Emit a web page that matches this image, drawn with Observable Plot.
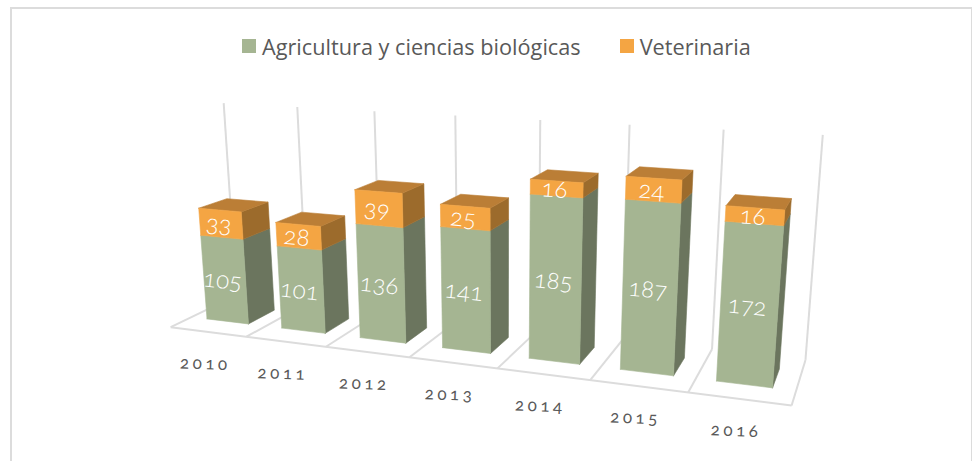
<!doctype html>
<html><head><meta charset="utf-8">
<style>
html,body{margin:0;background:#fff;overflow:hidden}
#frame{position:absolute;left:10px;top:7px;width:959px;height:470px;border:2px solid #dcdcdc;box-sizing:content-box}
#wrap{position:relative;width:972px}
#legend{height:70px;position:relative;font:400 21.7px "Open Sans";color:#595959}
#legend .row{position:absolute;left:242px;top:32px;display:flex;align-items:center;height:28px;white-space:nowrap}
#legend i{display:inline-block;width:14px;height:14px;margin-right:6px}
#legend span{margin-right:39px}
svg{display:block;background:transparent!important;font-family:Lato;font-variant-numeric:oldstyle-nums}
.yr text{letter-spacing:3.5px}
</style>
<script src="https://cdn.jsdelivr.net/npm/d3@7"></script>
<script src="https://cdn.jsdelivr.net/npm/@observablehq/plot@0.6"></script>
</head><body>
<div id="frame"></div>
<div id="wrap">
<div id="legend"><div class="row"><i style="background:#a5b592"></i><span>Agricultura y ciencias biológicas</span><i style="background:#f4a543"></i><span>Veterinaria</span></div></div>
<div id="chart"></div>
</div>
<script>
const years=["2010","2011","2012","2013","2014","2015","2016"];
const agricultura=[105,101,136,141,185,187,172];
const veterinaria=[33,28,39,25,16,24,16];
const axisMax=252;
const camera=[69.86182,-25.476,88.32434,170.1964,1.538504,-217.4366,-3.680412,326.6955,-0.02381649,-0.05065902,0.09537006];
const barU=[0.21,0.77],barW=[0.30,0.72];

function project(u,value,w){
  const v=value/axisMax,[a0,a1,a2,a3,b0,b1,b2,b3,c0,c1,c2]=camera;
  const d=1+c0*u+c1*v+c2*w;
  return {x:(a0*u+a1*v+a2*w+a3)/d,y:(b0*u+b1*v+b2*w+b3)/d};
}
const faces={greenSide:[],orangeSide:[],orangeTop:[],greenFront:[],orangeFront:[]};
function quad(list,key,corners){corners.forEach(c=>list.push({key,...project(...c)}));}
const labels=[];
years.forEach((yr,i)=>{
  const a=agricultura[i],t=a+veterinaria[i],u0=i+barU[0],u1=i+barU[1],[w0,w1]=barW;
  quad(faces.greenSide,yr,[[u1,0,w0],[u1,0,w1],[u1,a,w1],[u1,a,w0],[u1,0,w0]]);
  quad(faces.orangeSide,yr,[[u1,a,w0],[u1,a,w1],[u1,t,w1],[u1,t,w0],[u1,a,w0]]);
  quad(faces.orangeTop,yr,[[u0,t,w0],[u1,t,w0],[u1,t,w1],[u0,t,w1],[u0,t,w0]]);
  quad(faces.greenFront,yr,[[u0,0,w0],[u1,0,w0],[u1,a,w0],[u0,a,w0],[u0,0,w0]]);
  quad(faces.orangeFront,yr,[[u0,a,w0],[u1,a,w0],[u1,t,w0],[u0,t,w0],[u0,a,w0]]);
  const slope=(lo,hi)=>{const m=(lo+hi)/2,p=project(u0,m,w0),q=project(u1,m,w0);return Math.atan2(q.y-p.y,q.x-p.x)*180/Math.PI;};
  labels.push({text:String(a),...project((u0+u1)/2,a/2,w0),rotate:slope(0,a)});
  labels.push({text:String(veterinaria[i]),...project((u0+u1)/2,a+veterinaria[i]/2,w0),rotate:slope(a,t)});
});
const seg=(a,b)=>{const p=project(...a),q=project(...b);return {x1:p.x,y1:p.y,x2:q.x,y2:q.y};};
const gridLines=[seg([0,0,0],[years.length,0,0])];
d3.range(years.length+1).forEach(i=>{
  gridLines.push(seg([i,0,0],[i,0,1]));
  gridLines.push(seg([i,0,1],[i,250,1]));
});
const yearLabels=years.map((yr,i)=>({text:yr,...project(i+0.49,0,0)}));
const faceMark=(list,color)=>Plot.line(list,{x:"x",y:"y",z:"key",fill:color,stroke:color,strokeWidth:0.6});

const plot=Plot.plot({
  width:972,height:391,margin:0,
  x:{domain:[0,972],range:[0,972],axis:null},
  y:{domain:[70,461],range:[0,391],axis:null},
  marks:[
    Plot.link(gridLines,{x1:"x1",y1:"y1",x2:"x2",y2:"y2",stroke:"#dcdcdc",strokeWidth:2}),
    faceMark(faces.greenSide,"#6b755e"),
    faceMark(faces.orangeSide,"#9c6b2c"),
    faceMark(faces.orangeTop,"#bb7e36"),
    faceMark(faces.greenFront,"#a5b592"),
    faceMark(faces.orangeFront,"#f4a543"),
    Plot.text(labels,{x:"x",y:"y",text:"text",dx:-2,dy:1,rotate:"rotate",fill:"#fff",fontSize:24,fontWeight:300}),
    Plot.text(yearLabels,{x:"x",y:"y",text:"text",dx:-2,dy:32,rotate:2,fill:"#595959",fontSize:17,className:"yr"})
  ]
});
document.getElementById("chart").append(plot);
</script></body></html>
